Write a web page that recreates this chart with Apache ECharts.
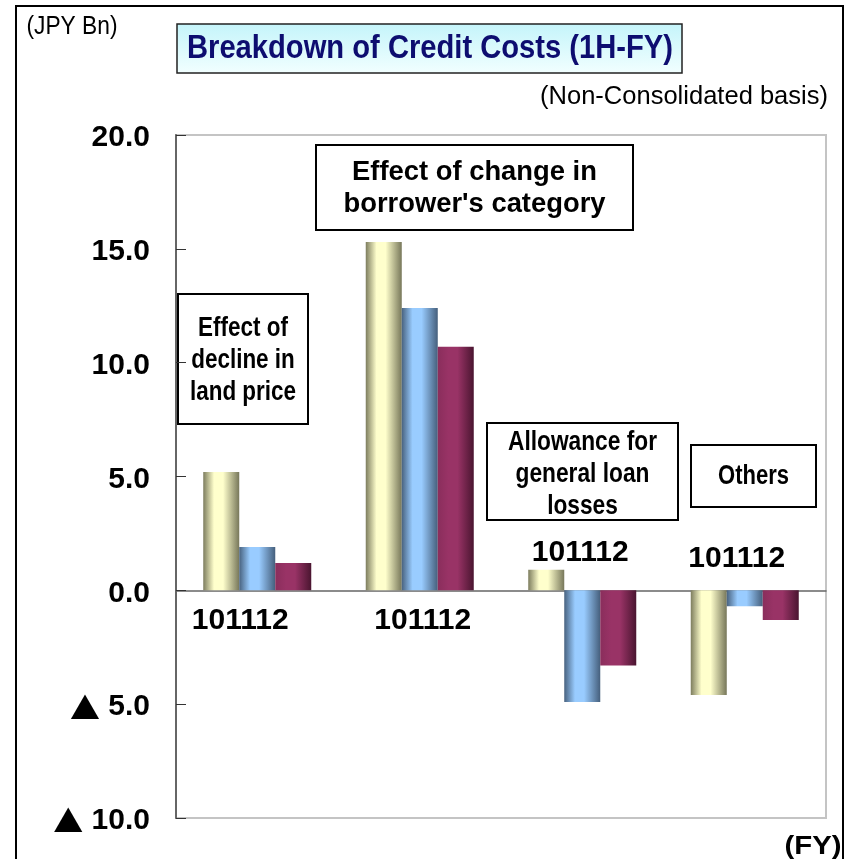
<!DOCTYPE html>
<html>
<head>
<meta charset="utf-8">
<script src="https://cdn.jsdelivr.net/npm/echarts@6/dist/echarts.min.js"></script>
<style>
  html, body { margin: 0; padding: 0; background: #fff; }
  #main { width: 847px; height: 859px; }
</style>
</head>
<body>
<div id="main"></div>
<script>
// categories (annotation boxes) and fiscal years
const categories = ['Effect of decline in land price', "Effect of change in borrower's category", 'Allowance for general loan losses', 'Others'];
const fyLabels = ['10', '11', '12'];
// values, JPY Bn
const fy10 = [5.2, 15.3, 0.9, -4.6];
const fy11 = [1.9, 12.4, -4.9, -0.7];
const fy12 = [1.2, 10.7, -3.3, -1.3];
const yTicks = [-10, -5, 0, 5, 10, 15, 20];

const sans = '"Liberation Sans", Arial, sans-serif';

// width of a text in a given font, used to squeeze Arial into the narrow gothic look
const measureCtx = document.createElement('canvas').getContext('2d');
function textWidth(text, font) {
  measureCtx.font = font;
  return measureCtx.measureText(text).width;
}

function cyl(dark, light, dark2) {
  return {
    type: 'linear', x: 0, y: 0, x2: 1, y2: 0,
    colorStops: [
      { offset: 0, color: dark },
      { offset: 0.3, color: light },
      { offset: 0.55, color: light },
      { offset: 1, color: dark2 }
    ]
  };
}

let myChart = echarts.init(document.getElementById('main'));

let option = {
  animation: false,
  grid: {
    left: 176, right: 21, top: 135, bottom: 41,
    show: true, borderColor: '#c4c4c4', borderWidth: 2
  },
  xAxis: {
    type: 'category',
    data: categories,
    axisLine: { onZero: true, lineStyle: { color: '#666', width: 1.5 } },
    axisTick: { inside: true, length: 8, lineStyle: { color: '#444' } },
    axisLabel: { show: false }
  },
  yAxis: {
    type: 'value',
    min: yTicks[0],
    max: yTicks[yTicks.length - 1],
    interval: 5,
    axisLine: { show: true, lineStyle: { color: '#666', width: 2 } },
    axisTick: { show: true, inside: true, length: 10, lineStyle: { color: '#333' } },
    splitLine: { show: false },
    axisLabel: {
      margin: 26,
      padding: [6, 0, 0, 0],
      fontFamily: sans,
      fontWeight: 'bold',
      fontSize: 30,
      color: '#000',
      formatter: v => (v < 0 ? '{tri|▲} ' + Math.abs(v).toFixed(1) : v.toFixed(1)),
      rich: {
        tri: { fontFamily: '"Noto Sans CJK JP", sans-serif', fontSize: 30, color: '#000' }
      }
    }
  },
  series: [
    {
      name: fyLabels[0], type: 'bar', data: fy10, barWidth: 36, barGap: '0%',
      itemStyle: { color: cyl('#7d7d5e', '#ffffcc', '#77775a') }
    },
    {
      name: fyLabels[1], type: 'bar', data: fy11, barWidth: 36,
      itemStyle: { color: cyl('#48627f', '#99ccff', '#455f7c') }
    },
    {
      name: fyLabels[2], type: 'bar', data: fy12, barWidth: 36,
      itemStyle: { color: cyl('#8a2e5c', '#993366', '#4a1530') }
    }
  ]
};
myChart.setOption(option);

// squeezed text: centre (cx, cy), fitted to width w
function narrowText(text, cx, cy, w, size, weight, fill, lh) {
  const font = weight + ' ' + size + 'px ' + sans;
  const lines = text.split('\n');
  const maxW = Math.max(...lines.map(l => textWidth(l, font)));
  return {
    type: 'text', x: cx, y: cy, scaleX: w / maxW,
    style: { text: text, font: font, fill: fill, lineHeight: lh || size,
      textAlign: 'center', textVerticalAlign: 'middle' }
  };
}

function box(x, y, w, h, text, tw, ty, lh, fs) {
  return {
    type: 'group',
    children: [
      { type: 'rect', shape: { x: x, y: y, width: w, height: h },
        style: { fill: '#fff', stroke: '#000', lineWidth: 2 } },
      narrowText(text, x + w / 2, ty, tw, fs, 'bold', '#000', lh)
    ]
  };
}

// year labels under/over each group: offset from category centre at the zero line
const yearLabelPos = [
  { dx: -17, dy: 30 },
  { dx: 3, dy: 30 },
  { dx: -2, dy: -38 },
  { dx: -8, dy: -32 }
];

let graphics = [
  { type: 'rect', shape: { x: 16, y: 6, width: 827, height: 870 },
    style: { fill: 'none', stroke: '#000', lineWidth: 2 } },
  narrowText('(JPY Bn)', 72, 27, 91, 25, 'normal', '#000'),
  { type: 'rect', shape: { x: 177, y: 24, width: 505, height: 49 },
    style: {
      fill: { type: 'linear', x: 0, y: 0, x2: 0, y2: 1,
        colorStops: [{ offset: 0, color: '#c4f4fa' }, { offset: 1, color: '#f2ffff' }] },
      stroke: '#222', lineWidth: 1.5
    } },
  narrowText('Breakdown of Credit Costs (1H-FY)', 430, 49, 486, 33, 'bold', '#0d0d70'),
  narrowText('(Non-Consolidated basis)', 684, 97, 288, 25, 'normal', '#000'),
  narrowText('(FY)', 813, 847, 57, 26, 'bold', '#000'),
  box(178, 294, 130, 130, 'Effect of\ndecline in\nland price', 106, 361, 32, 27),
  box(316, 145, 317, 85, "Effect of change in\nborrower's category", 262, 189, 32, 27),
  box(487, 423, 191, 97, 'Allowance for\ngeneral loan\nlosses', 149, 475, 32, 27),
  box(691, 445, 125, 62, 'Others', 71, 477, 30, 27)
];

categories.forEach((c, i) => {
  const p = myChart.convertToPixel({ xAxisIndex: 0, yAxisIndex: 0 }, [i, 0]);
  graphics.push({
    type: 'text', x: p[0] + yearLabelPos[i].dx, y: p[1] + yearLabelPos[i].dy,
    style: { text: fyLabels.join(''), font: 'bold 30px ' + sans, fill: '#000',
      textAlign: 'center', textVerticalAlign: 'middle' }
  });
});

myChart.setOption({ graphic: graphics });
</script>
</body>
</html>
